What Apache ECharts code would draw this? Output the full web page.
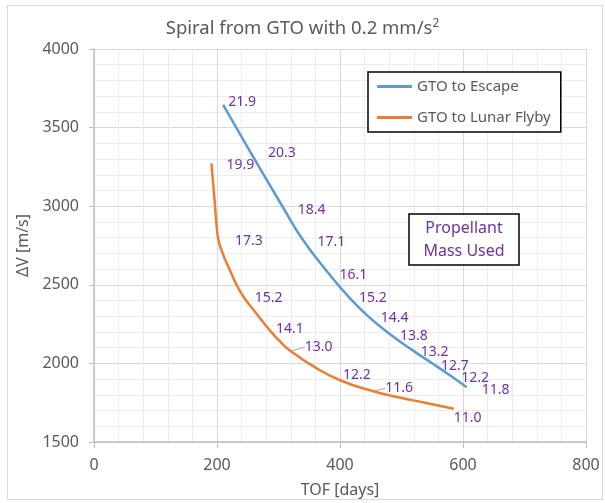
<!DOCTYPE html>
<html>
<head>
<meta charset="utf-8">
<script src="https://cdn.jsdelivr.net/npm/echarts@6/dist/echarts.min.js"></script>
<style>
  html, body { margin: 0; padding: 0; background: #fff; }
  #main { width: 605px; height: 503px; }
</style>
</head>
<body>
<div id="main"></div>
<script>
// GTO to Escape
var escTof  = [210, 255, 307, 339, 383, 413, 445, 483, 520, 551, 584, 606];
var escDv   = [3644, 3340, 2995, 2790, 2565, 2428, 2302, 2180, 2078, 1998, 1910, 1848];
var escMass = ['21.9', '20.3', '18.4', '17.1', '16.1', '15.2', '14.4', '13.8', '13.2', '12.7', '12.2', '11.8'];

// GTO to Lunar Flyby
var lunTof  = [191, 196, 200, 203, 211, 221, 232, 245, 265, 283, 302, 320, 359, 400, 454, 498, 538, 585];
var lunDv   = [3272, 3040, 2850, 2775, 2682, 2593, 2498, 2413, 2313, 2224, 2141, 2078, 1976, 1893, 1823, 1782, 1750, 1712];
var lunMass = ['19.9', null, null, '17.3', null, null, null, '15.2', null, '14.1', null, '13.0', null, '12.2', '11.6', null, null, '11.0'];

// label offsets (px) so the numbers sit where they sit in the original
var escOff = [[5,-3],[17,0],[15,3],[15,3],[10,0],[11,2],[13,2],[9,1],[7,1],[8,2],[8,0],[15,3]];
var lunOff = [[15,2],null,null,[16,-1],null,null,null,[10,0],null,[8,1],null,[14,-4],null,[3,-5],[12,-3],null,null,[0,9]];
// labels that have a small leader line back to their point
var lunLeader = [11, 14];

var purple = '#7030A0';
var grey = '#595959';

function buildData(tof, dv, mass, off, leader) {
    var out = [];
    for (var i = 0; i < tof.length; i++) {
        var item = { value: [tof[i], dv[i]] };
        if (mass[i]) {
            item.label = { show: true, formatter: mass[i], position: 'right', distance: 0 };
            if (off) item.label.offset = off[i];
            if (leader && leader.indexOf(i) >= 0) {
                item.labelLine = { show: true, length2: 0, lineStyle: { color: '#a6a6a6', width: 1 } };
            }
        } else {
            item.label = { show: false };
        }
        out.push(item);
    }
    return out;
}

var myChart = echarts.init(document.getElementById('main'));

var option = {
    animation: false,
    backgroundColor: '#fff',
    title: {
        text: 'Spiral from GTO with 0.2 mm/s{sup|2}',
        left: 'center',
        top: 13,
        textStyle: {
            color: grey,
            fontFamily: 'Noto Sans',
            fontSize: 18.5,
            fontWeight: 'normal',
            rich: {
                sup: { fontSize: 12, color: grey, fontFamily: 'Noto Sans', verticalAlign: 'top', padding: [0, 0, 9, 0] }
            }
        }
    },
    legend: {
        data: ['GTO to Escape', 'GTO to Lunar Flyby'],
        orient: 'vertical',
        left: 368,
        top: 72,
        icon: 'rect',
        itemWidth: 35,
        itemHeight: 3,
        itemGap: 16,
        padding: [7, 10, 7, 9],
        borderColor: '#000',
        borderWidth: 1.5,
        backgroundColor: '#fff',
        textStyle: { color: grey, fontFamily: 'Noto Sans', fontSize: 15 }
    },
    grid: { left: 94, right: 19, top: 49, bottom: 61 },
    xAxis: {
        type: 'value',
        min: 0, max: 800, interval: 200,
        name: 'TOF [days]',
        nameLocation: 'middle',
        nameGap: 40,
        nameTextStyle: { color: grey, fontFamily: 'Noto Sans', fontSize: 16 },
        axisLine: { show: true, onZero: false, lineStyle: { color: '#bfbfbf', width: 1.5 } },
        axisTick: { show: true, length: 6, lineStyle: { color: '#bfbfbf' } },
        axisLabel: { color: grey, fontFamily: 'Noto Sans', fontSize: 16, margin: 15, formatter: function (v) { return String(v); } },
        splitLine: { show: true, lineStyle: { color: '#d9d9d9', width: 1 } },
        minorTick: { show: false, splitNumber: 5 },
        minorSplitLine: { show: true, lineStyle: { color: '#ececec', width: 1 } }
    },
    yAxis: {
        type: 'value',
        min: 1500, max: 4000, interval: 500,
        name: 'ΔV [m/s]',
        nameLocation: 'middle',
        nameGap: 62,
        nameTextStyle: { color: grey, fontFamily: 'Noto Sans', fontSize: 16 },
        axisLine: { show: true, onZero: false, lineStyle: { color: '#bfbfbf', width: 1.5 } },
        axisTick: { show: true, length: 5, lineStyle: { color: '#bfbfbf' } },
        axisLabel: { color: grey, fontFamily: 'Noto Sans', fontSize: 16, margin: 15, formatter: function (v) { return String(v); } },
        splitLine: { show: true, lineStyle: { color: '#d9d9d9', width: 1 } },
        minorTick: { show: false, splitNumber: 5 },
        minorSplitLine: { show: true, lineStyle: { color: '#ececec', width: 1 } }
    },
    color: ['#5B9BD5', '#ED7D31'],
    series: [
        {
            name: 'GTO to Escape',
            type: 'line',
            smooth: 0.5,
            showSymbol: true,
            symbol: 'circle',
            symbolSize: 0.1,
            lineStyle: { width: 2.5, color: '#5B9BD5' },
            itemStyle: { color: '#5B9BD5' },
            label: { color: purple, fontFamily: 'Noto Sans', fontSize: 14 },
            data: buildData(escTof, escDv, escMass, escOff)
        },
        {
            name: 'GTO to Lunar Flyby',
            type: 'line',
            smooth: 0.5,
            showSymbol: true,
            symbol: 'circle',
            symbolSize: 0.1,
            lineStyle: { width: 2.5, color: '#ED7D31' },
            itemStyle: { color: '#ED7D31' },
            label: { color: purple, fontFamily: 'Noto Sans', fontSize: 14 },
            labelLayout: function (params) {
                var o = lunOff[params.dataIndex];
                if (o) {
                    return { dx: o[0], dy: o[1] };
                }
            },
            data: buildData(lunTof, lunDv, lunMass, null, lunLeader)
        }
    ],
    graphic: [
        {
            type: 'rect',
            shape: { x: 7.5, y: 5.5, width: 595, height: 494 },
            style: { fill: 'none', stroke: '#d9d9d9', lineWidth: 1 },
            silent: true
        },
        {
            type: 'rect',
            shape: { x: 409, y: 214, width: 110, height: 51 },
            style: { fill: '#fff', stroke: '#000', lineWidth: 1.5 },
            z: 10
        },
        {
            type: 'text',
            x: 464, y: 239.5,
            style: {
                text: 'Propellant\nMass Used',
                fill: purple,
                font: '16px "Noto Sans"',
                align: 'center',
                verticalAlign: 'middle',
                lineHeight: 23
            },
            z: 11
        }
    ]
};

myChart.setOption(option);
</script>
</body>
</html>
